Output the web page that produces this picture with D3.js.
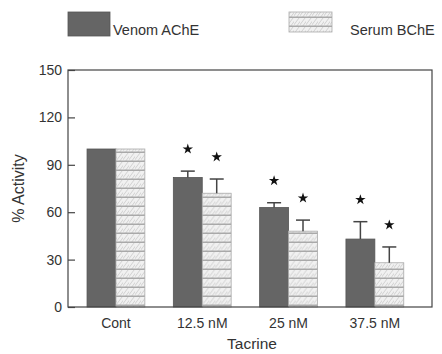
<!DOCTYPE html>
<html>
<head>
<meta charset="utf-8">
<script src="https://cdn.jsdelivr.net/npm/d3@7"></script>
<style>
  body { margin: 0; background: #fff; }
  text { font-family: "Liberation Sans", Arial, sans-serif; fill: #333; }
</style>
</head>
<body>
<div id="chart"></div>
<script>
// data
const categories = ['Cont', '12.5 nM', '25 nM', '37.5 nM']
const seriesNames = ['Venom AChE', 'Serum BChE']
const venomMean = [100, 82, 63, 43]
const venomErr = [0, 4, 3, 11]
const serumMean = [100, 72, 48, 28]
const serumErr = [0, 9, 7, 10]
const significant = [false, true, true, true]
const yTicks = [0, 30, 60, 90, 120, 150]

const W = 442, H = 354
const box = { left: 68, right: 432, top: 70, bottom: 307 }
const font = '"Liberation Sans", Arial, sans-serif'

const svg = d3.select('#chart').append('svg')
  .attr('width', W).attr('height', H)

// hatch pattern for serum bars
const defs = svg.append('defs')
const pat = defs.append('pattern')
  .attr('id', 'hatch')
  .attr('patternUnits', 'userSpaceOnUse')
  .attr('width', 6).attr('height', 9)
pat.append('rect').attr('width', 6).attr('height', 9).attr('fill', '#f1f1f1')
pat.append('path')
  .attr('d', 'M-1,8 L5,0 M2,9 L8,1')
  .attr('stroke', '#c8c8c8').attr('stroke-width', 0.8)
pat.append('rect').attr('y', 7.5).attr('width', 6).attr('height', 1.5).attr('fill', '#a9a9a9')

const rows = categories.map((c, i) => ({
  cat: c,
  sig: significant[i],
  vals: [
    { key: seriesNames[0], mean: venomMean[i], err: venomErr[i] },
    { key: seriesNames[1], mean: serumMean[i], err: serumErr[i] }
  ]
}))

const x0 = d3.scaleBand()
  .domain(categories)
  .range([72.8, 418])
  .paddingInner(0.33)
  .paddingOuter(0.165)

const x1 = d3.scaleBand()
  .domain(seriesNames)
  .range([0, x0.bandwidth()])

const y = d3.scaleLinear().domain([0, 150]).range([box.bottom, box.top])

const fill = d3.scaleOrdinal().domain(seriesNames).range(['#656565', 'url(#hatch)'])
const stroke = d3.scaleOrdinal().domain(seriesNames).range(['#555', '#aaa'])

// bars
const groups = svg.append('g').selectAll('g')
  .data(rows)
  .join('g')
  .attr('transform', d => `translate(${x0(d.cat)},0)`)

groups.selectAll('rect')
  .data(d => d.vals)
  .join('rect')
  .attr('x', d => x1(d.key))
  .attr('y', d => y(d.mean))
  .attr('width', x1.bandwidth())
  .attr('height', d => y(0) - y(d.mean))
  .attr('fill', d => fill(d.key))
  .attr('stroke', d => stroke(d.key))
  .attr('stroke-width', 0.8)

// error bars (upper only)
const errs = groups.selectAll('g.err')
  .data(d => d.vals.filter(v => v.err > 0))
  .join('g').attr('class', 'err')
errs.append('line')
  .attr('x1', d => x1(d.key) + x1.bandwidth() / 2)
  .attr('x2', d => x1(d.key) + x1.bandwidth() / 2)
  .attr('y1', d => y(d.mean))
  .attr('y2', d => y(d.mean + d.err))
  .attr('stroke', '#444').attr('stroke-width', 1.5)
errs.append('line')
  .attr('x1', d => x1(d.key) + x1.bandwidth() / 2 - 7)
  .attr('x2', d => x1(d.key) + x1.bandwidth() / 2 + 7)
  .attr('y1', d => y(d.mean + d.err))
  .attr('y2', d => y(d.mean + d.err))
  .attr('stroke', '#444').attr('stroke-width', 1.5)

// significance stars
groups.filter(d => d.sig).selectAll('path.star')
  .data(d => d.vals)
  .join('path')
  .attr('class', 'star')
  .attr('d', d3.symbol().type(d3.symbolStar).size(34))
  .attr('transform', d => `translate(${x1(d.key) + x1.bandwidth() / 2},${y(d.mean + d.err) - 22})`)
  .attr('fill', '#111')

// frame
svg.append('rect')
  .attr('x', box.left).attr('y', box.top)
  .attr('width', box.right - box.left).attr('height', box.bottom - box.top)
  .attr('fill', 'none').attr('stroke', '#444').attr('stroke-width', 1.2)

// y axis with inward ticks
const yAxis = svg.append('g')
  .attr('transform', `translate(${box.left},0)`)
  .call(d3.axisLeft(y).tickValues(yTicks).tickSizeInner(-7).tickSizeOuter(0).tickPadding(6))
yAxis.select('.domain').remove()
yAxis.selectAll('line').attr('stroke', '#444').attr('stroke-width', 1.2)
yAxis.selectAll('text').attr('font-size', 14).attr('fill', '#333').attr('font-family', font)

// x axis labels
const xAxis = svg.append('g')
  .attr('transform', `translate(0,${box.bottom})`)
  .call(d3.axisBottom(x0).tickSize(0).tickPadding(11))
xAxis.select('.domain').remove()
xAxis.selectAll('text').attr('font-size', 14).attr('fill', '#333').attr('font-family', font)

// axis titles
svg.append('text')
  .attr('x', (box.left + box.right) / 2 + 2).attr('y', 349)
  .attr('text-anchor', 'middle').attr('font-size', 15.5)
  .text('Tacrine')
svg.append('text')
  .attr('transform', `translate(24,${(box.top + box.bottom) / 2}) rotate(-90)`)
  .attr('text-anchor', 'middle').attr('font-size', 16)
  .text('% Activity')

// legend
const legend = [
  { key: seriesNames[0], x: 68, w: 42, h: 24, tx: 113 },
  { key: seriesNames[1], x: 289, w: 43, h: 20, tx: 350 }
]
const lg = svg.append('g').selectAll('g').data(legend).join('g')
lg.append('rect')
  .attr('x', d => d.x).attr('y', 12)
  .attr('width', d => d.w).attr('height', d => d.h)
  .attr('fill', d => fill(d.key))
  .attr('stroke', d => stroke(d.key)).attr('stroke-width', 0.8)
lg.append('text')
  .attr('x', d => d.tx).attr('y', 35)
  .attr('font-size', 14.5)
  .text(d => d.key)
</script>
</body>
</html>
